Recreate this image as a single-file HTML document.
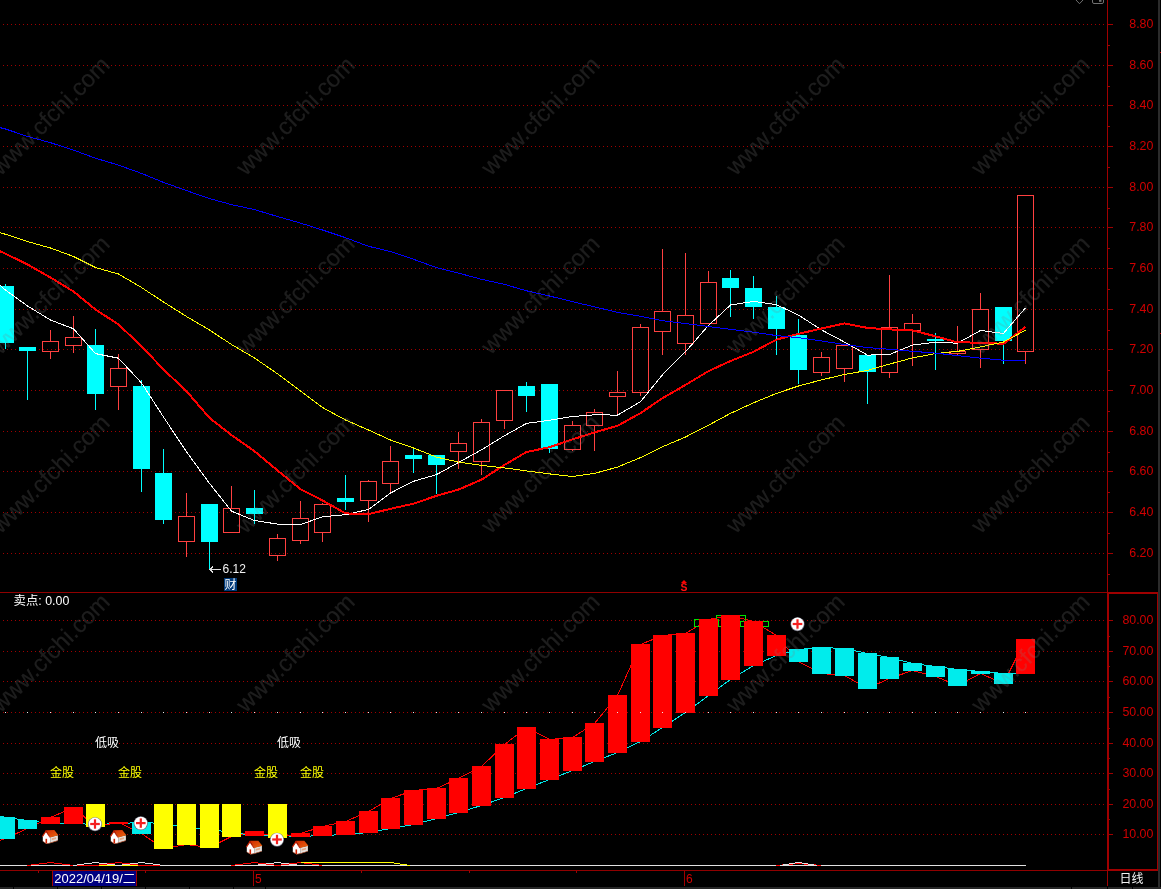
<!DOCTYPE html>
<html lang="zh-CN"><head><meta charset="utf-8"><title>K线图</title>
<style>
html,body{margin:0;padding:0;background:#000;}
body{width:1161px;height:889px;overflow:hidden;position:relative;font-family:"Liberation Sans","Noto Sans CJK SC",sans-serif;}
</style></head><body>
<svg width="1161" height="889" viewBox="0 0 1161 889" style="position:absolute;left:0;top:0">
<defs><linearGradient id="roofg" x1="0" y1="0" x2="1" y2="1"><stop offset="0" stop-color="#D02800"/><stop offset="1" stop-color="#E86810"/></linearGradient></defs>
<rect width="1161" height="889" fill="#000"/>
<g shape-rendering="crispEdges" stroke="#A00000" stroke-width="1" stroke-dasharray="1 3" fill="none">
<line x1="3" y1="24.5" x2="1106" y2="24.5"/>
<line x1="3" y1="65.5" x2="1106" y2="65.5"/>
<line x1="3" y1="105.5" x2="1106" y2="105.5"/>
<line x1="3" y1="146.5" x2="1106" y2="146.5"/>
<line x1="3" y1="187.5" x2="1106" y2="187.5"/>
<line x1="3" y1="227.5" x2="1106" y2="227.5"/>
<line x1="3" y1="268.5" x2="1106" y2="268.5"/>
<line x1="3" y1="309.5" x2="1106" y2="309.5"/>
<line x1="3" y1="349.5" x2="1106" y2="349.5"/>
<line x1="3" y1="390.5" x2="1106" y2="390.5"/>
<line x1="3" y1="431.5" x2="1106" y2="431.5"/>
<line x1="3" y1="471.5" x2="1106" y2="471.5"/>
<line x1="3" y1="512.5" x2="1106" y2="512.5"/>
<line x1="3" y1="553.5" x2="1106" y2="553.5"/>
<line x1="3" y1="620.5" x2="1106" y2="620.5"/>
<line x1="3" y1="651.5" x2="1106" y2="651.5"/>
<line x1="3" y1="681.5" x2="1106" y2="681.5"/>
<line x1="3" y1="712.5" x2="1106" y2="712.5"/>
<line x1="3" y1="743.5" x2="1106" y2="743.5"/>
<line x1="3" y1="773.5" x2="1106" y2="773.5"/>
<line x1="3" y1="804.5" x2="1106" y2="804.5"/>
<line x1="3" y1="834.5" x2="1106" y2="834.5"/>
</g>
<g shape-rendering="crispEdges">
<polyline points="-17,812 5.5,817.5 27.5,820.5 50.5,823.5 73.5,823.5 95.5,824.5 118.5,823.5 141.5,822.5 163.5,823.5 186.5,827.5 209.5,829.5 231.5,832.5 254.5,835.5 277.5,835.5 300.5,836.5 322.5,835.5 345.5,834.5 368.5,832.5 390.5,828.5 413.5,824.5 436.5,818.5 458.5,812.5 481.5,805.5 504.5,797.5 526.5,788.5 549.5,779.5 572.5,770.5 594.5,761.5 617.5,752.5 640.5,741.5 662.5,727.5 685.5,712.5 708.5,695.5 730.5,679.5 753.5,665.5 776.5,655.5 798.5,649.5 821.5,647.5 844.5,648.5 867.5,653.5 889.5,657.5 912.5,663.5 935.5,666.5 957.5,669.5 980.5,671.5 1003.5,673.5 1025.5,673.5" fill="none" stroke="#00E8E8" stroke-width="1"/>
<polyline points="-17,846 5.5,838.5 27.5,828.5 50.5,817.5 73.5,807.5 95.5,826.5 118.5,822.5 141.5,833.5 163.5,848.5 186.5,844.5 209.5,847.5 231.5,836.5 254.5,831.5 277.5,837.5 300.5,833.5 322.5,826.5 345.5,821.5 368.5,811.5 390.5,798.5 413.5,790.5 436.5,788.5 458.5,778.5 481.5,766.5 504.5,744.5 526.5,727.5 549.5,739.5 572.5,737.5 594.5,723.5 617.5,695.5 640.5,644.5 662.5,635.5 685.5,633.5 708.5,619.5 730.5,615.5 753.5,621.5 776.5,635.5 798.5,661.5 821.5,673.5 844.5,675.5 867.5,688.5 889.5,678.5 912.5,670.5 935.5,676.5 957.5,685.5 980.5,673.5 1003.5,683.5 1025.5,639.5" fill="none" stroke="#FF0000" stroke-width="1"/>
</g>
<g shape-rendering="crispEdges" fill="none" stroke="#00E000" stroke-width="1">
<rect x="694.5" y="619.5" width="24" height="7"/>
<rect x="716.5" y="615.5" width="29" height="11"/>
<rect x="740.5" y="621.5" width="28" height="5"/>
</g>
<g shape-rendering="crispEdges">
<rect x="-4" y="817" width="19" height="22" fill="#00ECEC"/>
<rect x="18" y="820" width="19" height="9" fill="#00ECEC"/>
<rect x="41" y="817" width="19" height="7" fill="#FF0000"/>
<rect x="64" y="807" width="19" height="17" fill="#FF0000"/>
<rect x="109" y="822" width="19" height="2" fill="#FF0000"/>
<rect x="132" y="822" width="19" height="12" fill="#00ECEC"/>
<rect x="245" y="831" width="19" height="5" fill="#FF0000"/>
<rect x="291" y="833" width="19" height="4" fill="#FF0000"/>
<rect x="313" y="826" width="19" height="10" fill="#FF0000"/>
<rect x="336" y="821" width="19" height="14" fill="#FF0000"/>
<rect x="359" y="811" width="19" height="22" fill="#FF0000"/>
<rect x="381" y="798" width="19" height="31" fill="#FF0000"/>
<rect x="404" y="790" width="19" height="35" fill="#FF0000"/>
<rect x="427" y="788" width="19" height="31" fill="#FF0000"/>
<rect x="449" y="778" width="19" height="35" fill="#FF0000"/>
<rect x="472" y="766" width="19" height="40" fill="#FF0000"/>
<rect x="495" y="744" width="19" height="54" fill="#FF0000"/>
<rect x="517" y="727" width="19" height="62" fill="#FF0000"/>
<rect x="540" y="739" width="19" height="41" fill="#FF0000"/>
<rect x="563" y="737" width="19" height="34" fill="#FF0000"/>
<rect x="585" y="723" width="19" height="39" fill="#FF0000"/>
<rect x="608" y="695" width="19" height="58" fill="#FF0000"/>
<rect x="631" y="644" width="19" height="98" fill="#FF0000"/>
<rect x="653" y="635" width="19" height="93" fill="#FF0000"/>
<rect x="676" y="633" width="19" height="80" fill="#FF0000"/>
<rect x="699" y="619" width="19" height="77" fill="#FF0000"/>
<rect x="721" y="615" width="19" height="65" fill="#FF0000"/>
<rect x="744" y="621" width="19" height="45" fill="#FF0000"/>
<rect x="767" y="635" width="19" height="21" fill="#FF0000"/>
<rect x="789" y="649" width="19" height="13" fill="#00ECEC"/>
<rect x="812" y="647" width="19" height="27" fill="#00ECEC"/>
<rect x="835" y="648" width="19" height="28" fill="#00ECEC"/>
<rect x="858" y="653" width="19" height="36" fill="#00ECEC"/>
<rect x="880" y="657" width="19" height="22" fill="#00ECEC"/>
<rect x="903" y="663" width="19" height="8" fill="#00ECEC"/>
<rect x="926" y="666" width="19" height="11" fill="#00ECEC"/>
<rect x="948" y="669" width="19" height="17" fill="#00ECEC"/>
<rect x="971" y="671" width="19" height="3" fill="#00ECEC"/>
<rect x="994" y="673" width="19" height="11" fill="#00ECEC"/>
<rect x="1016" y="639" width="19" height="35" fill="#FF0000"/>
<rect x="86" y="804" width="19" height="23" fill="#FFFF00"/>
<rect x="154" y="804" width="19" height="45" fill="#FFFF00"/>
<rect x="177" y="804" width="19" height="41" fill="#FFFF00"/>
<rect x="200" y="804" width="19" height="44" fill="#FFFF00"/>
<rect x="222" y="804" width="19" height="33" fill="#FFFF00"/>
<rect x="268" y="804" width="19" height="34" fill="#FFFF00"/>
</g>
<g shape-rendering="crispEdges" fill="#E8E8E8">
<rect x="5" y="712" width="1" height="1"/>
<rect x="27" y="712" width="1" height="1"/>
<rect x="50" y="712" width="1" height="1"/>
<rect x="73" y="712" width="1" height="1"/>
<rect x="95" y="712" width="1" height="1"/>
<rect x="118" y="712" width="1" height="1"/>
<rect x="141" y="712" width="1" height="1"/>
<rect x="163" y="712" width="1" height="1"/>
<rect x="186" y="712" width="1" height="1"/>
<rect x="209" y="712" width="1" height="1"/>
<rect x="231" y="712" width="1" height="1"/>
<rect x="254" y="712" width="1" height="1"/>
<rect x="277" y="712" width="1" height="1"/>
<rect x="300" y="712" width="1" height="1"/>
<rect x="322" y="712" width="1" height="1"/>
<rect x="345" y="712" width="1" height="1"/>
<rect x="368" y="712" width="1" height="1"/>
<rect x="390" y="712" width="1" height="1"/>
<rect x="413" y="712" width="1" height="1"/>
<rect x="436" y="712" width="1" height="1"/>
<rect x="458" y="712" width="1" height="1"/>
<rect x="481" y="712" width="1" height="1"/>
<rect x="504" y="712" width="1" height="1"/>
<rect x="526" y="712" width="1" height="1"/>
<rect x="549" y="712" width="1" height="1"/>
<rect x="572" y="712" width="1" height="1"/>
<rect x="594" y="712" width="1" height="1"/>
<rect x="617" y="712" width="1" height="1"/>
<rect x="640" y="712" width="1" height="1"/>
<rect x="662" y="712" width="1" height="1"/>
<rect x="685" y="712" width="1" height="1"/>
<rect x="708" y="712" width="1" height="1"/>
<rect x="730" y="712" width="1" height="1"/>
<rect x="753" y="712" width="1" height="1"/>
<rect x="776" y="712" width="1" height="1"/>
<rect x="798" y="712" width="1" height="1"/>
<rect x="821" y="712" width="1" height="1"/>
<rect x="844" y="712" width="1" height="1"/>
<rect x="867" y="712" width="1" height="1"/>
<rect x="889" y="712" width="1" height="1"/>
<rect x="912" y="712" width="1" height="1"/>
<rect x="935" y="712" width="1" height="1"/>
<rect x="957" y="712" width="1" height="1"/>
<rect x="980" y="712" width="1" height="1"/>
<rect x="1003" y="712" width="1" height="1"/>
<rect x="1025" y="712" width="1" height="1"/>
</g>
<g shape-rendering="crispEdges" fill="none" stroke-width="1">
<polyline points="0,865.5 1025.5,865.5" stroke="#E0E0E0"/>
<polyline points="76,865.5 99,865.5" stroke="#FF0000"/>
<polyline points="138,865.5 160,865.5" stroke="#FF0000"/>
<polyline points="27.5,865.5 50.5,862.5 73.5,865.5" stroke="#FF0000"/>
<polyline points="95.5,865.5 118.5,862.5 141.5,865.5" stroke="#FF0000"/>
<polyline points="231.5,865.5 254.5,862.5 277.5,865.5 300.5,862.5 322.5,865.5" stroke="#FF0000"/>
<polyline points="776.5,865.5 798.5,863.5 821.5,865.5" stroke="#FF0000"/>
<polyline points="73.5,865.5 95.5,862.5 118.5,865.5 141.5,862.5 163.5,865.5" stroke="#E0E0E0"/>
<polyline points="254.5,865.5 277.5,862.5 300.5,865.5" stroke="#E0E0E0"/>
<polyline points="780,865.5 798.5,862.5 817,865.5" stroke="#E0E0E0"/>
<polyline points="99,865.5 114.5,865.5" stroke="#FFFF00"/>
<polyline points="122,865.5 138,865.5" stroke="#FFFF00"/>
<polyline points="300.5,862.5 390.5,862.5 410,865.5" stroke="#FFFF00"/>
</g>
<g shape-rendering="crispEdges">
<rect x="-3" y="286" width="17" height="57" fill="#00FFFF"/>
<rect x="5" y="284" width="1" height="2" fill="#00FFFF"/>
<rect x="5" y="343" width="1" height="6" fill="#00FFFF"/>
<rect x="19" y="347" width="17" height="4" fill="#00FFFF"/>
<rect x="27" y="351" width="1" height="49" fill="#00FFFF"/>
<rect x="42.5" y="341.5" width="16" height="10" fill="none" stroke="#FF4040" stroke-width="1"/>
<rect x="50" y="330" width="1" height="11" fill="#FF4040"/>
<rect x="50" y="352" width="1" height="7" fill="#FF4040"/>
<rect x="65.5" y="337.5" width="16" height="8" fill="none" stroke="#FF4040" stroke-width="1"/>
<rect x="73" y="316" width="1" height="21" fill="#FF4040"/>
<rect x="73" y="346" width="1" height="7" fill="#FF4040"/>
<rect x="87" y="345" width="17" height="49" fill="#00FFFF"/>
<rect x="95" y="329" width="1" height="16" fill="#00FFFF"/>
<rect x="95" y="394" width="1" height="16" fill="#00FFFF"/>
<rect x="110.5" y="368.5" width="16" height="18" fill="none" stroke="#FF4040" stroke-width="1"/>
<rect x="118" y="354" width="1" height="14" fill="#FF4040"/>
<rect x="118" y="387" width="1" height="23" fill="#FF4040"/>
<rect x="133" y="386" width="17" height="83" fill="#00FFFF"/>
<rect x="141" y="380" width="1" height="6" fill="#00FFFF"/>
<rect x="141" y="469" width="1" height="23" fill="#00FFFF"/>
<rect x="155" y="473" width="17" height="47" fill="#00FFFF"/>
<rect x="163" y="449" width="1" height="24" fill="#00FFFF"/>
<rect x="163" y="520" width="1" height="4" fill="#00FFFF"/>
<rect x="178.5" y="516.5" width="16" height="25" fill="none" stroke="#FF4040" stroke-width="1"/>
<rect x="186" y="493" width="1" height="23" fill="#FF4040"/>
<rect x="186" y="542" width="1" height="15" fill="#FF4040"/>
<rect x="201" y="504" width="17" height="38" fill="#00FFFF"/>
<rect x="209" y="542" width="1" height="28" fill="#00FFFF"/>
<rect x="223.5" y="508.5" width="16" height="24" fill="none" stroke="#FF4040" stroke-width="1"/>
<rect x="231" y="486" width="1" height="22" fill="#FF4040"/>
<rect x="246" y="508" width="17" height="6" fill="#00FFFF"/>
<rect x="254" y="490" width="1" height="18" fill="#00FFFF"/>
<rect x="254" y="514" width="1" height="10" fill="#00FFFF"/>
<rect x="269.5" y="538.5" width="16" height="17" fill="none" stroke="#FF4040" stroke-width="1"/>
<rect x="277" y="534" width="1" height="4" fill="#FF4040"/>
<rect x="277" y="556" width="1" height="5" fill="#FF4040"/>
<rect x="292.5" y="518.5" width="16" height="22" fill="none" stroke="#FF4040" stroke-width="1"/>
<rect x="300" y="501" width="1" height="17" fill="#FF4040"/>
<rect x="300" y="541" width="1" height="3" fill="#FF4040"/>
<rect x="314.5" y="504.5" width="16" height="28" fill="none" stroke="#FF4040" stroke-width="1"/>
<rect x="322" y="503" width="1" height="1" fill="#FF4040"/>
<rect x="322" y="533" width="1" height="9" fill="#FF4040"/>
<rect x="337" y="498" width="17" height="4" fill="#00FFFF"/>
<rect x="345" y="475" width="1" height="23" fill="#00FFFF"/>
<rect x="345" y="502" width="1" height="8" fill="#00FFFF"/>
<rect x="360.5" y="481.5" width="16" height="19" fill="none" stroke="#FF4040" stroke-width="1"/>
<rect x="368" y="480" width="1" height="1" fill="#FF4040"/>
<rect x="368" y="501" width="1" height="21" fill="#FF4040"/>
<rect x="382.5" y="461.5" width="16" height="22" fill="none" stroke="#FF4040" stroke-width="1"/>
<rect x="390" y="446" width="1" height="15" fill="#FF4040"/>
<rect x="390" y="484" width="1" height="8" fill="#FF4040"/>
<rect x="405" y="455" width="17" height="4" fill="#00FFFF"/>
<rect x="413" y="449" width="1" height="6" fill="#00FFFF"/>
<rect x="413" y="459" width="1" height="14" fill="#00FFFF"/>
<rect x="428" y="455" width="17" height="10" fill="#00FFFF"/>
<rect x="436" y="465" width="1" height="29" fill="#00FFFF"/>
<rect x="450.5" y="443.5" width="16" height="8" fill="none" stroke="#FF4040" stroke-width="1"/>
<rect x="458" y="432" width="1" height="11" fill="#FF4040"/>
<rect x="458" y="452" width="1" height="17" fill="#FF4040"/>
<rect x="473.5" y="422.5" width="16" height="39" fill="none" stroke="#FF4040" stroke-width="1"/>
<rect x="481" y="419" width="1" height="3" fill="#FF4040"/>
<rect x="481" y="462" width="1" height="13" fill="#FF4040"/>
<rect x="496.5" y="390.5" width="16" height="30" fill="none" stroke="#FF4040" stroke-width="1"/>
<rect x="504" y="421" width="1" height="8" fill="#FF4040"/>
<rect x="518" y="386" width="17" height="10" fill="#00FFFF"/>
<rect x="526" y="382" width="1" height="4" fill="#00FFFF"/>
<rect x="526" y="396" width="1" height="16" fill="#00FFFF"/>
<rect x="541" y="384" width="17" height="65" fill="#00FFFF"/>
<rect x="549" y="449" width="1" height="4" fill="#00FFFF"/>
<rect x="564.5" y="425.5" width="16" height="24" fill="none" stroke="#FF4040" stroke-width="1"/>
<rect x="572" y="421" width="1" height="4" fill="#FF4040"/>
<rect x="572" y="450" width="1" height="1" fill="#FF4040"/>
<rect x="586.5" y="412.5" width="16" height="13" fill="none" stroke="#FF4040" stroke-width="1"/>
<rect x="594" y="409" width="1" height="3" fill="#FF4040"/>
<rect x="594" y="426" width="1" height="25" fill="#FF4040"/>
<rect x="609.5" y="392.5" width="16" height="4" fill="none" stroke="#FF4040" stroke-width="1"/>
<rect x="617" y="371" width="1" height="21" fill="#FF4040"/>
<rect x="617" y="397" width="1" height="18" fill="#FF4040"/>
<rect x="632.5" y="327.5" width="16" height="65" fill="none" stroke="#FF4040" stroke-width="1"/>
<rect x="640" y="324" width="1" height="3" fill="#FF4040"/>
<rect x="640" y="393" width="1" height="3" fill="#FF4040"/>
<rect x="654.5" y="311.5" width="16" height="20" fill="none" stroke="#FF4040" stroke-width="1"/>
<rect x="662" y="249" width="1" height="62" fill="#FF4040"/>
<rect x="662" y="332" width="1" height="23" fill="#FF4040"/>
<rect x="677.5" y="315.5" width="16" height="28" fill="none" stroke="#FF4040" stroke-width="1"/>
<rect x="685" y="253" width="1" height="62" fill="#FF4040"/>
<rect x="685" y="344" width="1" height="11" fill="#FF4040"/>
<rect x="700.5" y="282.5" width="16" height="41" fill="none" stroke="#FF4040" stroke-width="1"/>
<rect x="708" y="271" width="1" height="11" fill="#FF4040"/>
<rect x="722" y="278" width="17" height="10" fill="#00FFFF"/>
<rect x="730" y="270" width="1" height="8" fill="#00FFFF"/>
<rect x="730" y="288" width="1" height="29" fill="#00FFFF"/>
<rect x="745" y="288" width="17" height="19" fill="#00FFFF"/>
<rect x="753" y="276" width="1" height="12" fill="#00FFFF"/>
<rect x="753" y="307" width="1" height="12" fill="#00FFFF"/>
<rect x="768" y="307" width="17" height="22" fill="#00FFFF"/>
<rect x="776" y="296" width="1" height="11" fill="#00FFFF"/>
<rect x="776" y="329" width="1" height="26" fill="#00FFFF"/>
<rect x="790" y="335" width="17" height="35" fill="#00FFFF"/>
<rect x="798" y="319" width="1" height="16" fill="#00FFFF"/>
<rect x="798" y="370" width="1" height="14" fill="#00FFFF"/>
<rect x="813.5" y="357.5" width="16" height="15" fill="none" stroke="#FF4040" stroke-width="1"/>
<rect x="821" y="352" width="1" height="5" fill="#FF4040"/>
<rect x="821" y="373" width="1" height="3" fill="#FF4040"/>
<rect x="836.5" y="345.5" width="16" height="23" fill="none" stroke="#FF4040" stroke-width="1"/>
<rect x="844" y="369" width="1" height="13" fill="#FF4040"/>
<rect x="859" y="355" width="17" height="17" fill="#00FFFF"/>
<rect x="867" y="372" width="1" height="32" fill="#00FFFF"/>
<rect x="881.5" y="327.5" width="16" height="45" fill="none" stroke="#FF4040" stroke-width="1"/>
<rect x="889" y="275" width="1" height="52" fill="#FF4040"/>
<rect x="889" y="373" width="1" height="5" fill="#FF4040"/>
<rect x="904.5" y="323.5" width="16" height="7" fill="none" stroke="#FF4040" stroke-width="1"/>
<rect x="912" y="314" width="1" height="9" fill="#FF4040"/>
<rect x="912" y="331" width="1" height="35" fill="#FF4040"/>
<rect x="927" y="339" width="17" height="2" fill="#00FFFF"/>
<rect x="935" y="333" width="1" height="6" fill="#00FFFF"/>
<rect x="935" y="341" width="1" height="29" fill="#00FFFF"/>
<rect x="949.5" y="351.5" width="16" height="2" fill="none" stroke="#FF4040" stroke-width="1"/>
<rect x="957" y="326" width="1" height="25" fill="#FF4040"/>
<rect x="957" y="354" width="1" height="1" fill="#FF4040"/>
<rect x="972.5" y="309.5" width="16" height="40" fill="none" stroke="#FF4040" stroke-width="1"/>
<rect x="980" y="293" width="1" height="16" fill="#FF4040"/>
<rect x="980" y="350" width="1" height="18" fill="#FF4040"/>
<rect x="995" y="307" width="17" height="34" fill="#00FFFF"/>
<rect x="1003" y="341" width="1" height="23" fill="#00FFFF"/>
<rect x="1017.5" y="195.5" width="16" height="156" fill="none" stroke="#FF4040" stroke-width="1"/>
<rect x="1025" y="352" width="1" height="12" fill="#FF4040"/>
</g>
<g shape-rendering="crispEdges" fill="none" stroke-linejoin="round">
<polyline points="-0.5,285.0 5.5,290.0 27.5,306.0 50.5,320.0 73.5,328.8 95.5,353.6 118.5,358.2 141.5,382.9 163.5,417.0 186.5,451.8 209.5,483.4 231.5,511.2 254.5,520.5 277.5,524.1 300.5,524.5 322.5,516.8 345.5,514.7 368.5,509.4 390.5,493.0 413.5,481.3 436.5,474.6 458.5,462.5 481.5,449.8 504.5,435.7 526.5,423.4 549.5,420.3 572.5,416.5 594.5,414.8 617.5,415.1 640.5,401.7 662.5,374.8 685.5,351.8 708.5,325.4 730.5,305.0 753.5,301.4 776.5,304.7 798.5,315.1 821.5,329.9 844.5,342.1 867.5,355.1 889.5,354.5 912.5,345.1 935.5,342.2 957.5,343.2 980.5,330.5 1003.5,333.4 1025.5,307.8" stroke="#FFFFFF" stroke-width="1"/>
<polyline points="-0.5,251.0 5.5,253.7 27.5,264.5 50.5,277.5 73.5,291.5 95.5,309.5 118.5,324.5 141.5,346.2 163.5,369.5 186.5,391.2 209.5,417.9 231.5,435.1 254.5,451.2 277.5,470.4 300.5,489.2 322.5,500.4 345.5,513.4 368.5,514.2 390.5,508.8 413.5,503.7 436.5,495.8 458.5,489.6 481.5,479.7 504.5,464.9 526.5,452.0 549.5,447.2 572.5,439.4 594.5,432.4 617.5,425.8 640.5,413.1 662.5,398.2 685.5,384.9 708.5,371.1 730.5,361.0 753.5,351.8 776.5,339.6 798.5,333.8 821.5,328.5 844.5,323.4 867.5,327.9 889.5,329.4 912.5,330.4 935.5,336.3 957.5,342.4 980.5,342.6 1003.5,343.9 1025.5,326.9" stroke="#FF0000" stroke-width="2"/>
<polyline points="-0.5,232.5 5.5,234.3 27.5,241.5 50.5,248.0 73.5,256.5 95.5,267.5 118.5,274.0 141.5,287.5 163.5,302.0 186.5,316.5 209.5,330.0 231.5,344.5 254.5,358.0 277.5,373.8 300.5,391.0 322.5,407.5 345.5,420.0 368.5,430.0 390.5,440.0 413.5,448.0 436.5,457.1 458.5,462.1 481.5,465.4 504.5,467.9 526.5,470.9 549.5,473.9 572.5,476.5 594.5,473.4 617.5,467.1 640.5,457.6 662.5,446.8 685.5,437.0 708.5,425.2 730.5,413.4 753.5,402.8 776.5,393.4 798.5,386.0 821.5,379.9 844.5,374.5 867.5,370.4 889.5,364.1 912.5,357.9 935.5,353.6 957.5,351.4 980.5,346.9 1003.5,342.0 1025.5,330.2" stroke="#FFFF00" stroke-width="1"/>
<polyline points="-0.5,127.5 5.5,129.0 27.5,136.4 50.5,142.7 73.5,150.1 95.5,158.2 118.5,165.1 141.5,173.4 163.5,182.4 186.5,190.6 209.5,198.6 231.5,204.6 254.5,209.6 277.5,216.5 300.5,223.1 322.5,230.0 345.5,237.7 368.5,246.3 390.5,251.5 413.5,259.3 436.5,267.6 458.5,273.1 481.5,279.3 504.5,284.4 526.5,290.8 549.5,296.0 572.5,301.7 594.5,306.8 617.5,312.4 640.5,316.2 662.5,320.7 685.5,323.6 708.5,326.5 730.5,329.3 753.5,332.2 776.5,335.6 798.5,337.7 821.5,341.0 844.5,344.5 867.5,347.6 889.5,349.3 912.5,351.3 935.5,353.1 957.5,355.6 980.5,358.2 1003.5,360.2 1025.5,360.5" stroke="#0000FF" stroke-width="1"/>
</g>
<g shape-rendering="crispEdges" fill="#A00000">
<rect x="1107" y="0" width="1" height="886"/>
<rect x="0" y="592" width="1107" height="1" fill="#900000"/>
<rect x="0" y="870" width="1107" height="1" fill="#900000"/>
<rect x="1107" y="592" width="2" height="279"/>
<rect x="1107" y="592" width="52" height="2"/>
<rect x="1107" y="869" width="52" height="2"/>
<rect x="1157" y="592" width="2" height="279"/>
<rect x="1108" y="24" width="5" height="1"/>
<rect x="1108" y="45" width="2" height="1"/>
<rect x="1108" y="65" width="5" height="1"/>
<rect x="1108" y="86" width="2" height="1"/>
<rect x="1108" y="105" width="5" height="1"/>
<rect x="1108" y="126" width="2" height="1"/>
<rect x="1108" y="146" width="5" height="1"/>
<rect x="1108" y="167" width="2" height="1"/>
<rect x="1108" y="187" width="5" height="1"/>
<rect x="1108" y="208" width="2" height="1"/>
<rect x="1108" y="227" width="5" height="1"/>
<rect x="1108" y="248" width="2" height="1"/>
<rect x="1108" y="268" width="5" height="1"/>
<rect x="1108" y="289" width="2" height="1"/>
<rect x="1108" y="309" width="5" height="1"/>
<rect x="1108" y="330" width="2" height="1"/>
<rect x="1108" y="349" width="5" height="1"/>
<rect x="1108" y="370" width="2" height="1"/>
<rect x="1108" y="390" width="5" height="1"/>
<rect x="1108" y="411" width="2" height="1"/>
<rect x="1108" y="431" width="5" height="1"/>
<rect x="1108" y="452" width="2" height="1"/>
<rect x="1108" y="471" width="5" height="1"/>
<rect x="1108" y="492" width="2" height="1"/>
<rect x="1108" y="512" width="5" height="1"/>
<rect x="1108" y="533" width="2" height="1"/>
<rect x="1108" y="553" width="5" height="1"/>
<rect x="1108" y="574" width="2" height="1"/>
<rect x="1109" y="620" width="4" height="1"/>
<rect x="1109" y="651" width="4" height="1"/>
<rect x="1109" y="681" width="4" height="1"/>
<rect x="1109" y="712" width="4" height="1"/>
<rect x="1109" y="743" width="4" height="1"/>
<rect x="1109" y="773" width="4" height="1"/>
<rect x="1109" y="804" width="4" height="1"/>
<rect x="1109" y="834" width="4" height="1"/>
<rect x="1109" y="636" width="1" height="1"/>
<rect x="1109" y="666" width="1" height="1"/>
<rect x="1109" y="697" width="1" height="1"/>
<rect x="1109" y="728" width="1" height="1"/>
<rect x="1109" y="758" width="1" height="1"/>
<rect x="1109" y="789" width="1" height="1"/>
<rect x="1109" y="819" width="1" height="1"/>
<rect x="38" y="871" width="1" height="2"/>
<rect x="145" y="871" width="1" height="2"/>
<rect x="361" y="871" width="1" height="2"/>
<rect x="469" y="871" width="1" height="2"/>
<rect x="576" y="871" width="1" height="2"/>
<rect x="253" y="871" width="1" height="15"/>
<rect x="684" y="871" width="1" height="15"/>
<rect x="52" y="871" width="1" height="15"/>
<rect x="136" y="871" width="1" height="15"/>
</g>
<g shape-rendering="crispEdges">
<rect x="1158" y="0" width="2" height="889" fill="#2B2B2B"/>
<rect x="1160" y="52" width="1" height="1" fill="#B00000"/>
<rect x="1160" y="333" width="1" height="1" fill="#B00000"/>
<rect x="0" y="887" width="1161" height="2" fill="#262626"/>
<rect x="13" y="887" width="1" height="2" fill="#000"/>
<rect x="57" y="887" width="1" height="2" fill="#000"/>
<rect x="101" y="887" width="1" height="2" fill="#000"/>
<rect x="145" y="887" width="1" height="2" fill="#000"/>
<rect x="189" y="887" width="1" height="2" fill="#000"/>
<rect x="233" y="887" width="1" height="2" fill="#000"/>
<rect x="265" y="887" width="1" height="2" fill="#000"/>
<rect x="1071" y="887" width="1" height="2" fill="#000"/>
<rect x="1107" y="887" width="1" height="2" fill="#000"/>
<rect x="1132" y="887" width="1" height="2" fill="#000"/>
</g>
<g fill="none" stroke="#707070" stroke-width="1">
<polyline points="1076,0 1079.5,3.7 1083,0"/>
<path d="M1092.5,0 V2 Q1092.5,3.5 1094,3.5 H1102 Q1103.5,3.5 1103.5,2 V0"/>
<rect x="1099" y="0" width="2.5" height="1.8" fill="#707070" stroke="none"/>
</g>
<g transform="translate(41.9,830.0)"><path d="M8.4,7.0 L16,5.2 L16,10.6 L8.4,12.9 Z" fill="#E4E0DC"/><path d="M3.9,1.6 L0.9,6.2 L0.9,11.3 L4.6,13.7 L8.4,12.9 L8.4,7.0 Z" fill="#FFFFFF"/><path d="M0.9,11.0 L4.6,13.4 L8.4,12.6 L16,10.3 L16,10.9 L8.4,13.3 L4.6,14 L0.9,11.6 Z" fill="#B05030"/><path d="M3.9,0.2 L12.4,0.1 L16.5,5.2 L8.4,7.4 Z" fill="url(#roofg)"/><path d="M3.9,0.2 L4.7,1.3 L0.9,6.9 L0,6.2 Z" fill="#C82000"/><path d="M3.9,0.2 L8.4,7.4 L7.6,7.6 L3.4,1.2 Z" fill="#C01800"/><rect x="3.6" y="8.8" width="1.6" height="4.6" fill="#D02000"/><path d="M9.8,8.3 L14.2,7.2 L14.2,9.0 L9.8,10.2 Z" fill="#E0A888"/></g>
<g transform="translate(109.9,830.0)"><path d="M8.4,7.0 L16,5.2 L16,10.6 L8.4,12.9 Z" fill="#E4E0DC"/><path d="M3.9,1.6 L0.9,6.2 L0.9,11.3 L4.6,13.7 L8.4,12.9 L8.4,7.0 Z" fill="#FFFFFF"/><path d="M0.9,11.0 L4.6,13.4 L8.4,12.6 L16,10.3 L16,10.9 L8.4,13.3 L4.6,14 L0.9,11.6 Z" fill="#B05030"/><path d="M3.9,0.2 L12.4,0.1 L16.5,5.2 L8.4,7.4 Z" fill="url(#roofg)"/><path d="M3.9,0.2 L4.7,1.3 L0.9,6.9 L0,6.2 Z" fill="#C82000"/><path d="M3.9,0.2 L8.4,7.4 L7.6,7.6 L3.4,1.2 Z" fill="#C01800"/><rect x="3.6" y="8.8" width="1.6" height="4.6" fill="#D02000"/><path d="M9.8,8.3 L14.2,7.2 L14.2,9.0 L9.8,10.2 Z" fill="#E0A888"/></g>
<g transform="translate(245.9,840.6)"><path d="M8.4,7.0 L16,5.2 L16,10.6 L8.4,12.9 Z" fill="#E4E0DC"/><path d="M3.9,1.6 L0.9,6.2 L0.9,11.3 L4.6,13.7 L8.4,12.9 L8.4,7.0 Z" fill="#FFFFFF"/><path d="M0.9,11.0 L4.6,13.4 L8.4,12.6 L16,10.3 L16,10.9 L8.4,13.3 L4.6,14 L0.9,11.6 Z" fill="#B05030"/><path d="M3.9,0.2 L12.4,0.1 L16.5,5.2 L8.4,7.4 Z" fill="url(#roofg)"/><path d="M3.9,0.2 L4.7,1.3 L0.9,6.9 L0,6.2 Z" fill="#C82000"/><path d="M3.9,0.2 L8.4,7.4 L7.6,7.6 L3.4,1.2 Z" fill="#C01800"/><rect x="3.6" y="8.8" width="1.6" height="4.6" fill="#D02000"/><path d="M9.8,8.3 L14.2,7.2 L14.2,9.0 L9.8,10.2 Z" fill="#E0A888"/></g>
<g transform="translate(291.9,840.6)"><path d="M8.4,7.0 L16,5.2 L16,10.6 L8.4,12.9 Z" fill="#E4E0DC"/><path d="M3.9,1.6 L0.9,6.2 L0.9,11.3 L4.6,13.7 L8.4,12.9 L8.4,7.0 Z" fill="#FFFFFF"/><path d="M0.9,11.0 L4.6,13.4 L8.4,12.6 L16,10.3 L16,10.9 L8.4,13.3 L4.6,14 L0.9,11.6 Z" fill="#B05030"/><path d="M3.9,0.2 L12.4,0.1 L16.5,5.2 L8.4,7.4 Z" fill="url(#roofg)"/><path d="M3.9,0.2 L4.7,1.3 L0.9,6.9 L0,6.2 Z" fill="#C82000"/><path d="M3.9,0.2 L8.4,7.4 L7.6,7.6 L3.4,1.2 Z" fill="#C01800"/><rect x="3.6" y="8.8" width="1.6" height="4.6" fill="#D02000"/><path d="M9.8,8.3 L14.2,7.2 L14.2,9.0 L9.8,10.2 Z" fill="#E0A888"/></g>
<circle cx="95.0" cy="824.2" r="7.0" fill="#6C6C7C"/><circle cx="95.0" cy="824.0" r="6.4" fill="#FFFFFF"/><rect x="90.2" y="822.9" width="9.6" height="2.2" fill="#F42020"/><rect x="93.9" y="819.3" width="2.2" height="9.4" fill="#F42020"/>
<circle cx="140.8" cy="823.3" r="7.0" fill="#6C6C7C"/><circle cx="140.8" cy="823.1" r="6.4" fill="#FFFFFF"/><rect x="136.0" y="822.0" width="9.6" height="2.2" fill="#F42020"/><rect x="139.7" y="818.4" width="2.2" height="9.4" fill="#F42020"/>
<circle cx="277.0" cy="839.7" r="7.0" fill="#6C6C7C"/><circle cx="277.0" cy="839.5" r="6.4" fill="#FFFFFF"/><rect x="272.2" y="838.4" width="9.6" height="2.2" fill="#F42020"/><rect x="275.9" y="834.8" width="2.2" height="9.4" fill="#F42020"/>
<circle cx="797.5" cy="624.2" r="7.0" fill="#6C6C7C"/><circle cx="797.5" cy="624.0" r="6.4" fill="#FFFFFF"/><rect x="792.7" y="622.9" width="9.6" height="2.2" fill="#F42020"/><rect x="796.4" y="619.3" width="2.2" height="9.4" fill="#F42020"/>
<g font-family="'Liberation Sans','Noto Sans CJK SC',sans-serif" font-size="12.4">
<text x="1153.4" y="28.1" text-anchor="end" fill="#D00000">8.80</text>
<text x="1153.4" y="69.1" text-anchor="end" fill="#D00000">8.60</text>
<text x="1153.4" y="109.1" text-anchor="end" fill="#D00000">8.40</text>
<text x="1153.4" y="150.1" text-anchor="end" fill="#D00000">8.20</text>
<text x="1153.4" y="191.1" text-anchor="end" fill="#D00000">8.00</text>
<text x="1153.4" y="231.1" text-anchor="end" fill="#D00000">7.80</text>
<text x="1153.4" y="272.1" text-anchor="end" fill="#D00000">7.60</text>
<text x="1153.4" y="313.1" text-anchor="end" fill="#D00000">7.40</text>
<text x="1153.4" y="353.1" text-anchor="end" fill="#D00000">7.20</text>
<text x="1153.4" y="394.1" text-anchor="end" fill="#D00000">7.00</text>
<text x="1153.4" y="435.1" text-anchor="end" fill="#D00000">6.80</text>
<text x="1153.4" y="475.1" text-anchor="end" fill="#D00000">6.60</text>
<text x="1153.4" y="516.1" text-anchor="end" fill="#D00000">6.40</text>
<text x="1153.4" y="557.1" text-anchor="end" fill="#D00000">6.20</text>
<text x="1153.4" y="624.1" text-anchor="end" fill="#D00000">80.00</text>
<text x="1153.4" y="655.1" text-anchor="end" fill="#D00000">70.00</text>
<text x="1153.4" y="685.1" text-anchor="end" fill="#D00000">60.00</text>
<text x="1153.4" y="716.1" text-anchor="end" fill="#D00000">50.00</text>
<text x="1153.4" y="747.1" text-anchor="end" fill="#D00000">40.00</text>
<text x="1153.4" y="777.1" text-anchor="end" fill="#D00000">30.00</text>
<text x="1153.4" y="808.1" text-anchor="end" fill="#D00000">20.00</text>
<text x="1153.4" y="838.1" text-anchor="end" fill="#D00000">10.00</text>
</g>
<g font-family="'Liberation Sans','Noto Sans CJK SC',sans-serif" font-size="12">
<text x="13.5" y="604.9" font-size="12.4" fill="#FFFFFF">卖点: 0.00</text>
<text x="222.5" y="573.2" fill="#F2F2F2">6.12</text>
<rect x="224" y="578" width="13" height="13" fill="#003A7A"/>
<text x="224.5" y="589.2" fill="#FFFFFF">财</text>
<rect x="95" y="736" width="24" height="13" fill="#000"/>
<text x="95.0" y="746.9" fill="#FFFFFF">低吸</text>
<rect x="277" y="736" width="24" height="13" fill="#000"/>
<text x="277.0" y="746.9" fill="#FFFFFF">低吸</text>
<rect x="50" y="766" width="24" height="13" fill="#000"/>
<text x="50.0" y="776.9" fill="#FFFF00">金股</text>
<rect x="118" y="766" width="24" height="13" fill="#000"/>
<text x="118.0" y="776.9" fill="#FFFF00">金股</text>
<rect x="254" y="766" width="24" height="13" fill="#000"/>
<text x="254.0" y="776.9" fill="#FFFF00">金股</text>
<rect x="300" y="766" width="24" height="13" fill="#000"/>
<text x="300.0" y="776.9" fill="#FFFF00">金股</text>
<text x="255" y="883.4" fill="#D00000">5</text>
<text x="686" y="883.4" fill="#D00000">6</text>
<text x="1119.6" y="883.4" fill="#F4F4F4">日线</text>
</g>
<g shape-rendering="crispEdges" stroke="#E0E0E0" stroke-width="1" fill="none">
<polyline points="210,569.5 221,569.5"/><polyline points="213,566.5 210,569.5 213,572.5"/>
</g>
<rect x="53" y="871" width="83" height="15" fill="#000080"/>
<text x="54.3" y="883.3" font-family="'Liberation Sans','Noto Sans CJK SC',sans-serif" font-size="13" fill="#FFFFFF" textLength="81.5" lengthAdjust="spacingAndGlyphs">2022/04/19/二</text>
<path d="M681,583 L684,580 L687,583 Z" fill="#FF0000"/>
<text x="680.4" y="591.2" font-family="'Liberation Sans','Noto Sans CJK SC',sans-serif" font-size="10.4" font-weight="bold" fill="#FF1010">S</text>
<g font-family="'Liberation Sans','Noto Sans CJK SC',sans-serif" font-size="23.6" text-anchor="middle" fill="#808080" stroke="#808080" stroke-width="0.2" opacity="0.23">
<text transform="translate(56.0,121.4) rotate(-45)">www.cfchi.com</text>
<text transform="translate(301.0,121.4) rotate(-45)">www.cfchi.com</text>
<text transform="translate(546.0,121.4) rotate(-45)">www.cfchi.com</text>
<text transform="translate(791.0,121.4) rotate(-45)">www.cfchi.com</text>
<text transform="translate(1036.0,121.4) rotate(-45)">www.cfchi.com</text>
<text transform="translate(56.0,300.4) rotate(-45)">www.cfchi.com</text>
<text transform="translate(301.0,300.4) rotate(-45)">www.cfchi.com</text>
<text transform="translate(546.0,300.4) rotate(-45)">www.cfchi.com</text>
<text transform="translate(791.0,300.4) rotate(-45)">www.cfchi.com</text>
<text transform="translate(1036.0,300.4) rotate(-45)">www.cfchi.com</text>
<text transform="translate(56.0,479.4) rotate(-45)">www.cfchi.com</text>
<text transform="translate(301.0,479.4) rotate(-45)">www.cfchi.com</text>
<text transform="translate(546.0,479.4) rotate(-45)">www.cfchi.com</text>
<text transform="translate(791.0,479.4) rotate(-45)">www.cfchi.com</text>
<text transform="translate(1036.0,479.4) rotate(-45)">www.cfchi.com</text>
<text transform="translate(56.0,658.4) rotate(-45)">www.cfchi.com</text>
<text transform="translate(301.0,658.4) rotate(-45)">www.cfchi.com</text>
<text transform="translate(546.0,658.4) rotate(-45)">www.cfchi.com</text>
<text transform="translate(791.0,658.4) rotate(-45)">www.cfchi.com</text>
<text transform="translate(1036.0,658.4) rotate(-45)">www.cfchi.com</text>
</g>
</svg>
</body></html>
